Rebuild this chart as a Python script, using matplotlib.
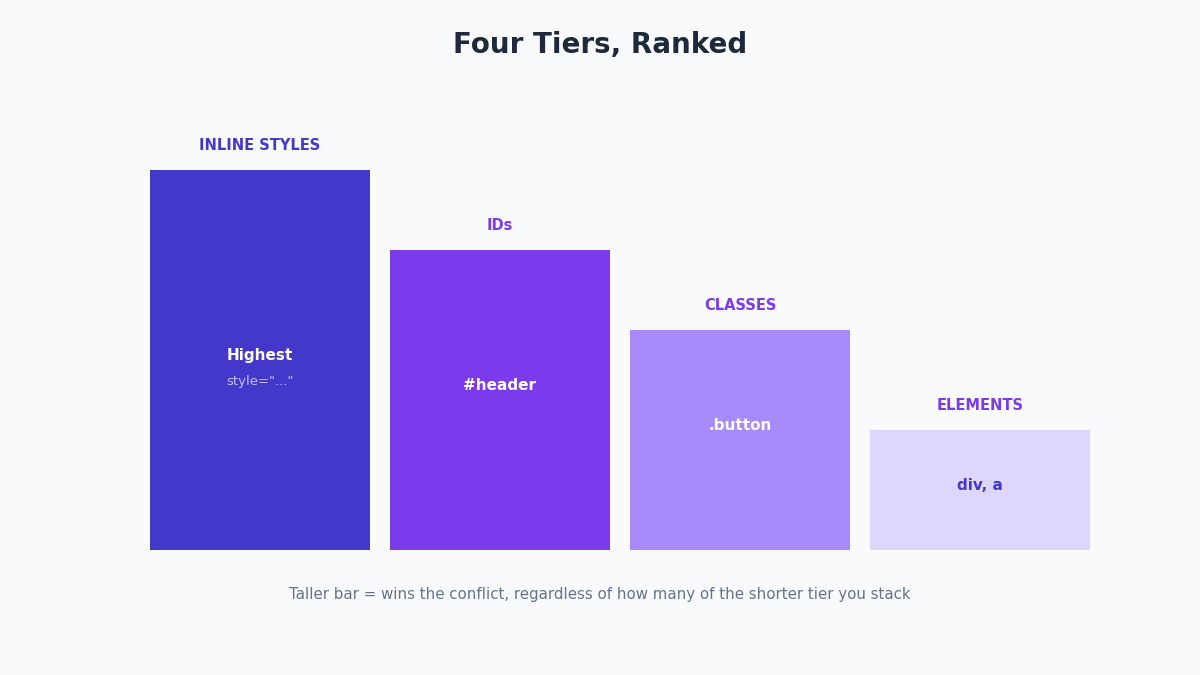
import matplotlib.pyplot as plt

tiers = ['INLINE STYLES', 'IDs', 'CLASSES', 'ELEMENTS']
weights = [380, 300, 220, 120]
examples = ['Highest', '#header', '.button', 'div, a']
bar_colors = ['#4338ca', '#7c3aed', '#a78bfa', '#ddd6fe']
tier_colors = ['#4338ca', '#7c3aed', '#7c3aed', '#7c3aed']
inner_colors = ['white', 'white', 'white', '#4338ca']

bg = '#f8fafc'

fig = plt.figure(figsize=(12, 6.75), dpi=100)
fig.patch.set_facecolor(bg)

# axes placed in pixel terms: bars from x=150 to 1090, base at y=550
ax = fig.add_axes([140 / 1200, 125 / 675, 960 / 1200, 400 / 675])
ax.set_facecolor(bg)
x = range(len(tiers))
ax.bar(x, weights, width=220 / 240, color=bar_colors)
ax.set_xlim(-0.5, 3.5)
ax.set_ylim(0, 400)
ax.axis('off')

# inner label nudges (px above bar middle)
nudge = [5, 15, 15, 5]

for i, w in enumerate(weights):
    ax.text(i, w + 25, tiers[i], ha='center', va='center', fontsize=10.5,
            fontweight='bold', color=tier_colors[i])
    ax.text(i, w / 2 + nudge[i], examples[i], ha='center', va='center',
            fontsize=11, fontweight='bold', color=inner_colors[i])

ax.text(0, weights[0] / 2 - 21, 'style="..."', ha='center', va='center',
        fontsize=9.5, color='#bcc2f5')

fig.text(0.5, 1 - 45 / 675, 'Four Tiers, Ranked', ha='center', va='center',
         fontsize=20, fontweight='bold', color='#1e293b')
fig.text(0.5, 1 - 595 / 675,
         'Taller bar = wins the conflict, regardless of how many of the shorter tier you stack',
         ha='center', va='center', fontsize=10.8, color='#64748b')

fig.savefig('out.png', dpi=100, facecolor=bg)
